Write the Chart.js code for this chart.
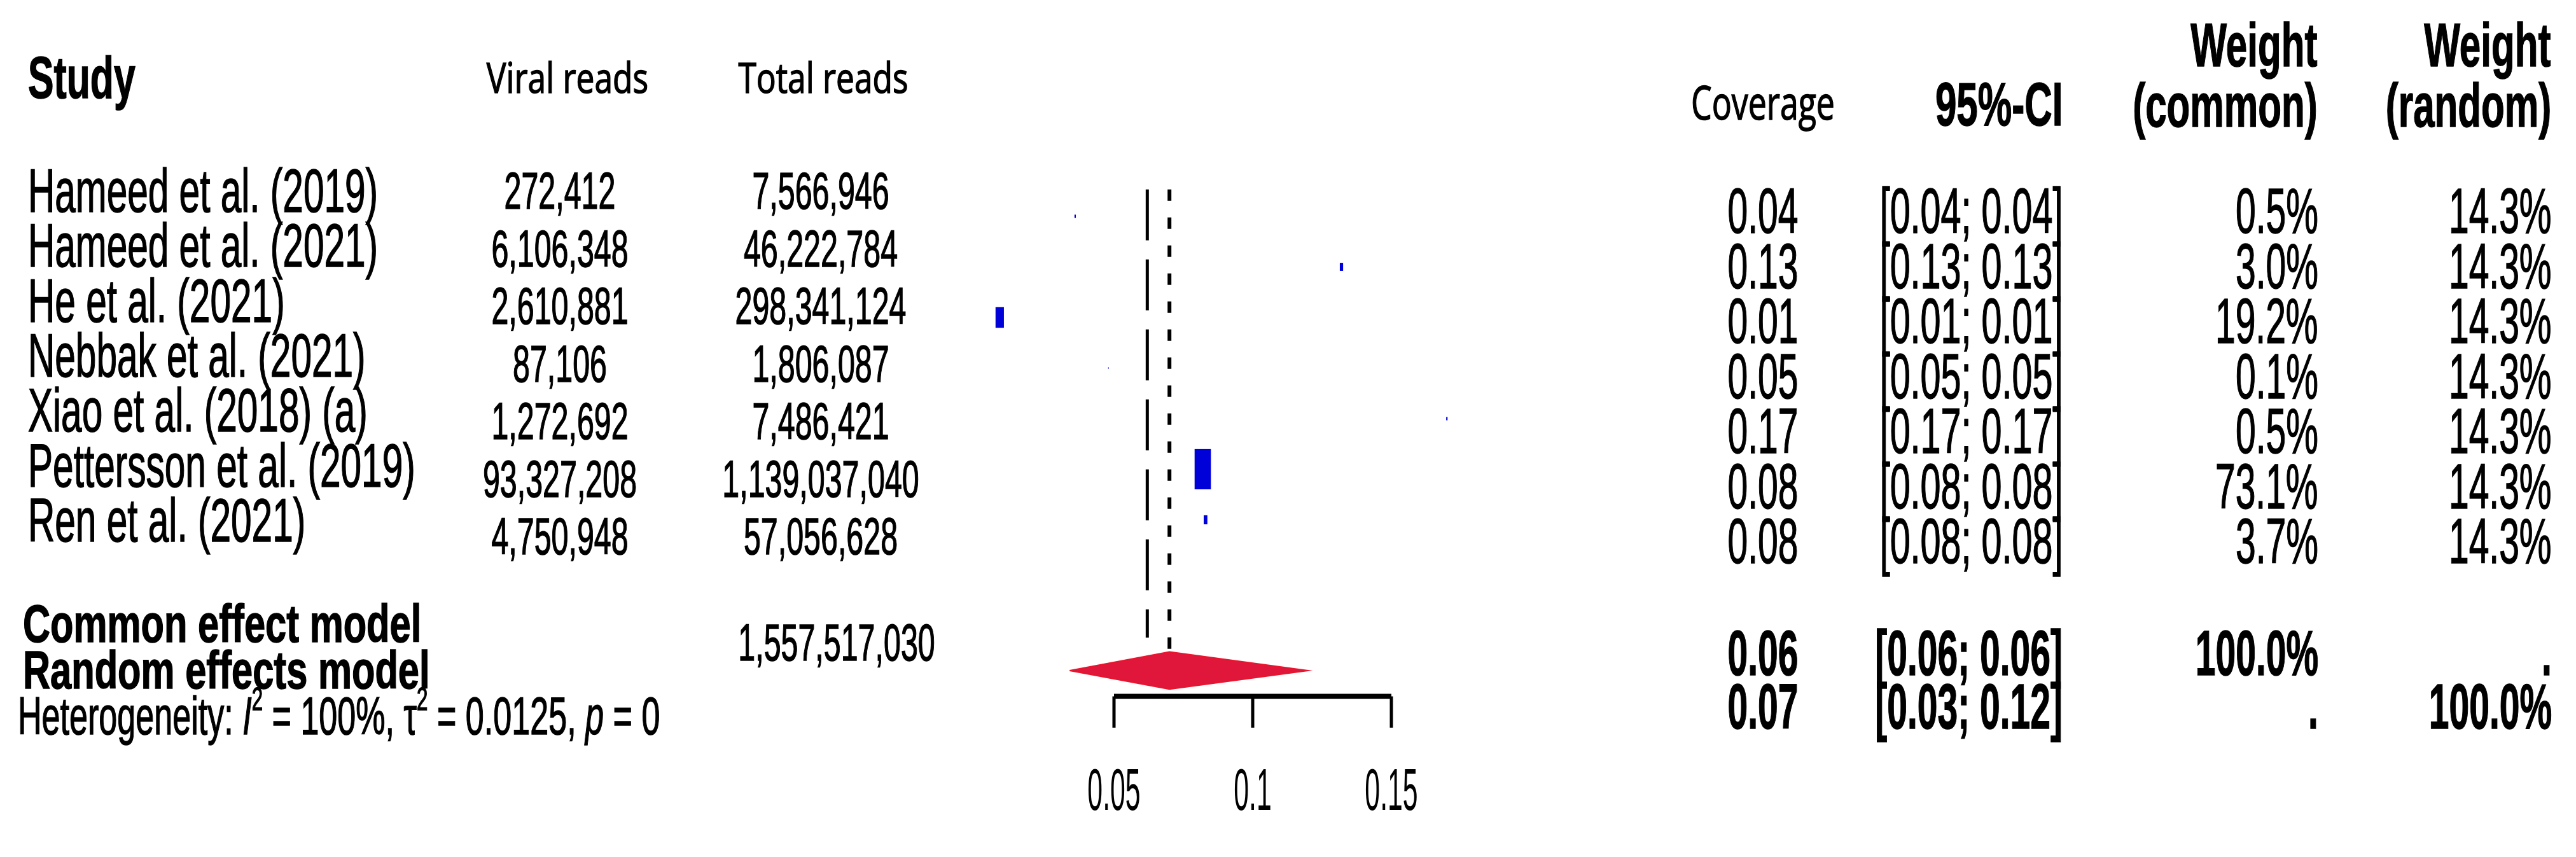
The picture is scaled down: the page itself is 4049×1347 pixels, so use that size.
<!DOCTYPE html>
<html>
<head>
<meta charset="utf-8">
<script src="https://cdn.jsdelivr.net/npm/chart.js@4.4.0/dist/chart.umd.min.js"></script>
<style>
  html, body { margin: 0; padding: 0; background: #fff; }
  #wrap { position: relative; width: 4049px; height: 1347px; overflow: hidden; }
  #forest { position: absolute; left: 0; top: 0; }
  .t { position: absolute; white-space: nowrap; line-height: 1; color: #000;
       font-family: "Liberation Sans", Arial, sans-serif; -webkit-text-stroke: 1.5px #000; }
  .t sup { font-size: 0.6em; vertical-align: 0.75em; line-height: 0; }
</style>
</head>
<body>
<div id="wrap">
  <canvas id="forest" width="4049" height="1347"></canvas>
</div>
<script>
const studies = ['Hameed et al. (2019)', 'Hameed et al. (2021)', 'He et al. (2021)', 'Nebbak et al. (2021)',
  'Xiao et al. (2018) (a)', 'Pettersson et al. (2019)', 'Ren et al. (2021)']
const viralReads = ['272,412', '6,106,348', '2,610,881', '87,106', '1,272,692', '93,327,208', '4,750,948']
const totalReads = ['7,566,946', '46,222,784', '298,341,124', '1,806,087', '7,486,421', '1,139,037,040', '57,056,628']
const coverage = [0.036, 0.132, 0.0088, 0.048, 0.170, 0.082, 0.083]
const coverageText = ['0.04', '0.13', '0.01', '0.05', '0.17', '0.08', '0.08']
const ciText = ['[0.04; 0.04]', '[0.13; 0.13]', '[0.01; 0.01]', '[0.05; 0.05]', '[0.17; 0.17]', '[0.08; 0.08]', '[0.08; 0.08]']
const weightCommon = [0.5, 3.0, 19.2, 0.1, 0.5, 73.1, 3.7]
const weightRandom = [14.3, 14.3, 14.3, 14.3, 14.3, 14.3, 14.3]
const commonEst = 0.062
const randomEst = 0.070
const randomLo = 0.034
const randomHi = 0.12
const xTicks = [0.05, 0.1, 0.15]
const xTickLabels = ['0.05', '0.1', '0.15']

// ---- text table ----
const wrap = document.getElementById('wrap')
function put(html, x, y, o) {
  const d = document.createElement('div')
  d.className = 't'
  d.innerHTML = html
  d.style.fontSize = o.size + 'px'
  d.style.top = y + 'px'
  if (o.bold) d.style.fontWeight = 'bold'
  if (o.font) d.style.fontFamily = o.font
  const sx = o.sx || 1
  if (o.align === 'right') {
    d.style.right = (4049 - x) + 'px'
    d.style.transformOrigin = 'right center'
    d.style.transform = 'translateY(-50%) scaleX(' + sx + ')'
  } else if (o.align === 'center') {
    d.style.left = x + 'px'
    d.style.transform = 'translate(-50%,-50%) scaleX(' + sx + ')'
  } else {
    d.style.left = x + 'px'
    d.style.transformOrigin = 'left center'
    d.style.transform = 'translateY(-50%) scaleX(' + sx + ')'
  }
  wrap.appendChild(d)
}

const hdr = { size: 97, bold: true, sx: 0.62 }
put('Study', 44, 122, { size: 92, bold: true, sx: 0.66 })
put('Viral reads', 892, 120, { size: 66, font: '"Open Sans"', sx: 0.78, align: 'center' })
put('Total reads', 1294, 120, { size: 66, font: '"Open Sans"', sx: 0.78, align: 'center' })
put('Coverage', 2771, 160, { size: 74, font: '"Open Sans"', sx: 0.7, align: 'center' })
put('95%-CI', 3242, 163, Object.assign({ align: 'right' }, hdr))
put('Weight', 3643, 70, Object.assign({ align: 'right' }, hdr))
put('(common)', 3643, 165, Object.assign({ align: 'right' }, hdr))
put('Weight', 4010, 70, Object.assign({ align: 'right' }, hdr))
put('(random)', 4010, 165, Object.assign({ align: 'right' }, hdr))

studies.forEach((s, i) => {
  put(s, 44, 300 + 86.3 * i, { size: 96, sx: 0.61 })
  put(viralReads[i], 880, 300 + 90.5 * i, { size: 82, sx: 0.59, align: 'center' })
  put(totalReads[i], 1290, 300 + 90.5 * i, { size: 82, sx: 0.59, align: 'center' })
  const y = 331 + 86.5 * i
  put(coverageText[i], 2771, y, { size: 100, sx: 0.57, align: 'center' })
  put(ciText[i], 3242, y, { size: 100, sx: 0.575, align: 'right' })
  put(weightCommon[i].toFixed(1) + '%', 3644, y, { size: 100, sx: 0.57, align: 'right' })
  put(weightRandom[i].toFixed(1) + '%', 4011, y, { size: 100, sx: 0.57, align: 'right' })
})

put('Common effect model', 36, 980, { size: 84, bold: true, sx: 0.71 })
put('Random effects model', 36, 1053, { size: 84, bold: true, sx: 0.71 })
put('Heterogeneity: <i>I</i><sup>2</sup> = 100%, &tau;<sup>2</sup> = 0.0125, <i>p</i> = 0', 28, 1125, { size: 84, sx: 0.62 })
put('1,557,517,030', 1315, 1010, { size: 82, sx: 0.59, align: 'center' })

const sb = { size: 100, bold: true, sx: 0.57 }
put('0.06', 2771, 1026, Object.assign({ align: 'center' }, sb))
put('[0.06; 0.06]', 3242, 1026, Object.assign({ align: 'right' }, sb))
put('100.0%', 3644, 1026, Object.assign({ align: 'right' }, sb))
put('.', 4011, 1026, Object.assign({ align: 'right' }, sb))
put('0.07', 2771, 1110, Object.assign({ align: 'center' }, sb))
put('[0.03; 0.12]', 3242, 1110, Object.assign({ align: 'right' }, sb))
put('.', 3644, 1110, Object.assign({ align: 'right' }, sb))
put('100.0%', 4011, 1110, Object.assign({ align: 'right' }, sb))

// ---- forest plot ----
const PX_PER_UNIT = 4360
const xMin = 0.05 - 1751 / PX_PER_UNIT
const xMax = xMin + 4049 / PX_PER_UNIT
const ROW = 79.5
const yMin = -340 / ROW
const yMax = yMin + 1347 / ROW
const diamondRow = 8.98
const axisRow = 9.49

const tickSegs = []
xTicks.forEach(t => { tickSegs.push({ x: t, y: axisRow }, { x: t, y: axisRow + 0.62 }, { x: null, y: null }) })

const squares = {
  id: 'squares',
  afterDatasetsDraw(chart) {
    const { ctx, scales } = chart
    ctx.save()
    coverage.forEach((c, i) => {
      const px = scales.x.getPixelForValue(c)
      const py = scales.y.getPixelForValue(i)
      const s = Math.sqrt(weightCommon[i])
      const w = 3.0 * s, h = 7.4 * s
      ctx.fillStyle = '#0000d8'
      ctx.fillRect(px - w / 2, py - h / 2, w, h)
    })
    ctx.fillStyle = '#000'
    ctx.textAlign = 'center'
    ctx.textBaseline = 'middle'
    ctx.font = '93px "Liberation Sans"'
    xTicks.forEach((t, i) => {
      const px = scales.x.getPixelForValue(t)
      ctx.save()
      ctx.translate(px, 1247)
      ctx.scale(0.46, 1)
      ctx.fillText(xTickLabels[i], 0, 0)
      ctx.restore()
    })
    ctx.restore()
  }
}

new Chart(document.getElementById('forest'), {
  type: 'scatter',
  data: {
    datasets: [
      {
        label: 'random diamond',
        showLine: true, fill: 'shape',
        backgroundColor: '#e0163a', borderColor: '#e8162e', borderWidth: 2, pointRadius: 0,
        data: [{ x: randomLo, y: diamondRow }, { x: randomEst, y: diamondRow - 0.37 },
          { x: randomHi, y: diamondRow }, { x: randomEst, y: diamondRow + 0.37 }, { x: randomLo, y: diamondRow }],
      },
      {
        label: 'common line',
        showLine: true, borderColor: '#000', borderWidth: 5, borderDash: [80, 30], pointRadius: 0,
        data: [{ x: commonEst, y: -0.53 }, { x: commonEst, y: 8.33 }],
      },
      {
        label: 'random line',
        showLine: true, borderColor: '#000', borderWidth: 6, borderDash: [18, 26], pointRadius: 0,
        data: [{ x: randomEst, y: -0.53 }, { x: randomEst, y: 8.55 }],
      },
      {
        label: 'axis',
        showLine: true, borderColor: '#000', borderWidth: 8, pointRadius: 0,
        data: [{ x: xTicks[0], y: axisRow }, { x: xTicks[xTicks.length - 1], y: axisRow }],
      },
      {
        label: 'ticks',
        showLine: true, spanGaps: false, borderColor: '#000', borderWidth: 5, pointRadius: 0,
        data: tickSegs,
      },
    ],
  },
  options: {
    responsive: false,
    animation: false,
    devicePixelRatio: 1,
    layout: { padding: 0 },
    plugins: { legend: { display: false }, tooltip: { enabled: false } },
    scales: {
      x: { type: 'linear', min: xMin, max: xMax, display: false },
      y: { type: 'linear', min: yMin, max: yMax, reverse: true, display: false },
    },
  },
  plugins: [squares],
})
</script>
</body>
</html>
